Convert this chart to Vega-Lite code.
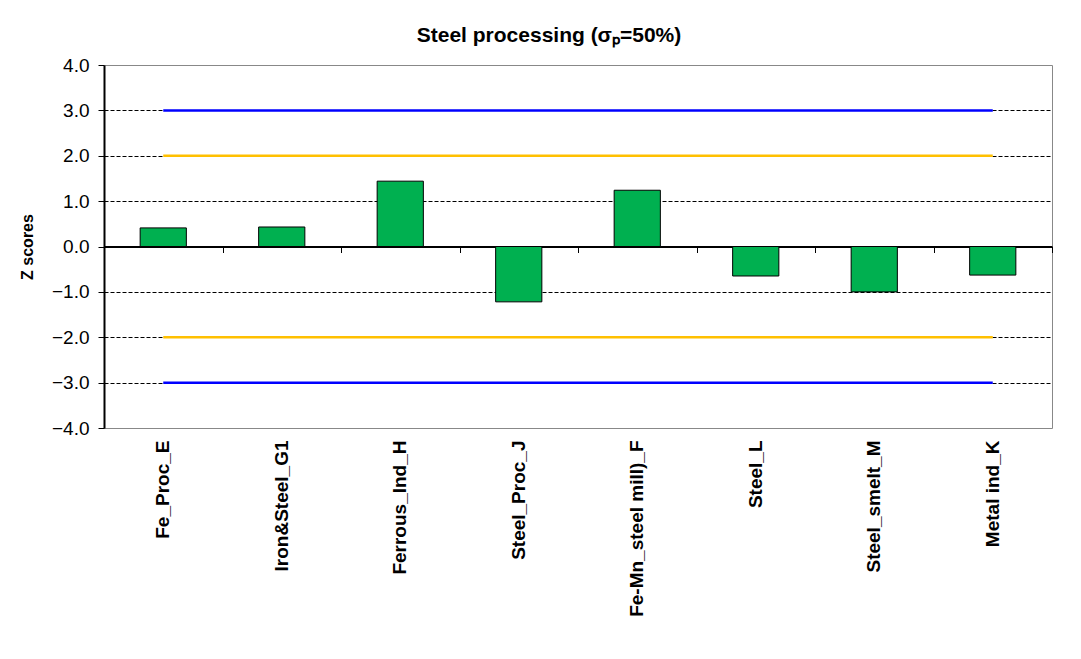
{
  "$schema": "https://vega.github.io/schema/vega-lite/v6.json",
  "width": 948,
  "height": 363,
  "autosize": "none",
  "padding": {"left": 104, "top": 65, "right": 29, "bottom": 231},
  "background": "white",
  "title": {
    "text": "Steel processing (σₚ=50%)",
    "font": "Liberation Sans",
    "fontSize": 21,
    "fontWeight": "bold",
    "color": "black",
    "anchor": "middle",
    "dx": -29,
    "offset": 10
  },
  "config": {
    "view": {"stroke": "#888888", "strokeWidth": 1},
    "font": "Liberation Sans"
  },
  "datasets": {
    "scores": [
      {"site": "Fe_Proc_E", "z": 0.41},
      {"site": "Iron&Steel_G1", "z": 0.43},
      {"site": "Ferrous_Ind_H", "z": 1.44},
      {"site": "Steel_Proc_J", "z": -1.22},
      {"site": "Fe-Mn_steel mill)_F", "z": 1.24},
      {"site": "Steel_L", "z": -0.65},
      {"site": "Steel_smelt_M", "z": -1.0},
      {"site": "Metal ind_K", "z": -0.63}
    ],
    "limits": [
      {"site": "Fe_Proc_E", "level": 3, "kind": "3 sigma"},
      {"site": "Metal ind_K", "level": 3, "kind": "3 sigma"},
      {"site": "Fe_Proc_E", "level": 2, "kind": "2 sigma"},
      {"site": "Metal ind_K", "level": 2, "kind": "2 sigma"},
      {"site": "Fe_Proc_E", "level": -2, "kind": "2 sigma"},
      {"site": "Metal ind_K", "level": -2, "kind": "2 sigma"},
      {"site": "Fe_Proc_E", "level": -3, "kind": "3 sigma"},
      {"site": "Metal ind_K", "level": -3, "kind": "3 sigma"}
    ]
  },
  "resolve": {"axis": {"x": "independent"}},
  "layer": [
    {
      "data": {"name": "scores"},
      "mark": {"type": "bar", "width": {"band": 0.39}, "color": "#00B050", "stroke": "black", "strokeWidth": 1},
      "encoding": {
        "x": {
          "field": "site",
          "type": "nominal",
          "sort": null,
          "scale": {
            "domain": ["Fe_Proc_E", "Iron&Steel_G1", "Ferrous_Ind_H", "Steel_Proc_J", "Fe-Mn_steel mill)_F", "Steel_L", "Steel_smelt_M", "Metal ind_K"],
            "paddingInner": 0,
            "paddingOuter": 0
          },
          "axis": {
            "orient": "bottom",
            "offset": -181.5,
            "labels": false,
            "title": null,
            "grid": false,
            "domainColor": "black",
            "domainWidth": 2,
            "tickColor": "black",
            "tickSize": 6,
            "tickWidth": 1,
            "tickBand": "extent"
          }
        },
        "y": {
          "field": "z",
          "type": "quantitative",
          "scale": {"domain": [-4, 4], "nice": false},
          "axis": {
            "title": "Z scores",
            "values": [-4, -3, -2, -1, 0, 1, 2, 3, 4],
            "format": ".1f",
            "labelFontSize": 19,
            "labelColor": "black",
            "labelPadding": 9,
            "tickSize": 6,
            "tickColor": "black",
            "domainColor": "black",
            "domainWidth": 2,
            "grid": true,
            "gridColor": {"condition": {"test": "abs(datum.value) == 4", "value": "#888888"}, "value": "black"},
            "gridDash": [4, 2],
            "gridWidth": 1,
            "titleFontSize": 16,
            "titleFontWeight": "bold",
            "titleColor": "black",
            "titlePadding": 16
          }
        }
      }
    },
    {
      "data": {"name": "limits"},
      "mark": {"type": "line", "strokeWidth": 2.5},
      "encoding": {
        "x": {
          "field": "site",
          "type": "nominal",
          "sort": null,
          "scale": {
            "domain": ["Fe_Proc_E", "Iron&Steel_G1", "Ferrous_Ind_H", "Steel_Proc_J", "Fe-Mn_steel mill)_F", "Steel_L", "Steel_smelt_M", "Metal ind_K"]
          },
          "axis": {
            "orient": "bottom",
            "title": null,
            "grid": false,
            "domain": false,
            "ticks": false,
            "labelAngle": -90,
            "labelFontSize": 19,
            "labelFontWeight": "bold",
            "labelColor": "black",
            "labelPadding": 12
          }
        },
        "y": {"field": "level", "type": "quantitative"},
        "detail": {"field": "level"},
        "color": {
          "field": "kind",
          "type": "nominal",
          "scale": {"domain": ["3 sigma", "2 sigma"], "range": ["#0000FF", "#FFC000"]},
          "legend": null
        }
      }
    }
  ]
}
